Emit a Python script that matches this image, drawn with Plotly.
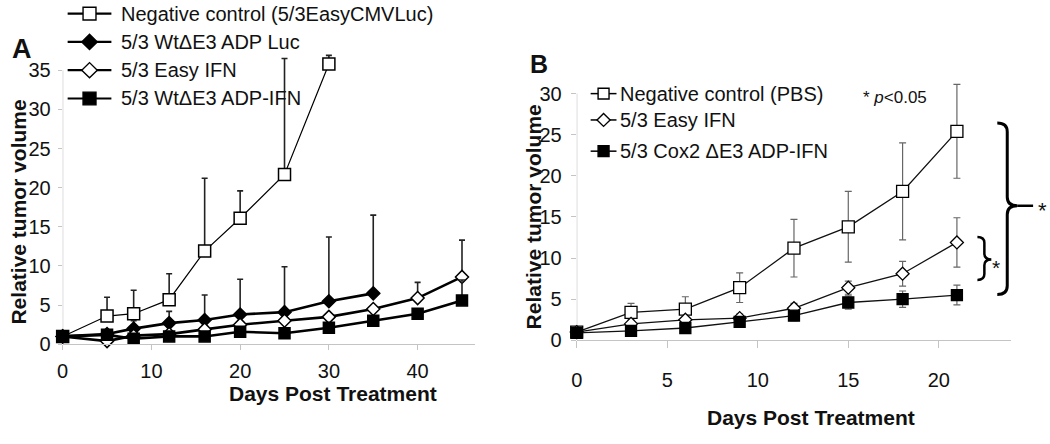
import plotly.graph_objects as go

W, H = 1050, 444
FONT = "Liberation Sans, Arial, Helvetica, sans-serif"

# ---------------- Panel A data ----------------
a_neg_name = "Negative control (5/3EasyCMVLuc)"
a_neg_days = [0, 5, 8, 12, 16, 20, 25, 30]
a_neg_vals = [1.0, 3.6, 3.9, 5.7, 11.9, 16.1, 21.7, 35.8]
a_neg_err = [0.0, 2.4, 3.0, 3.3, 9.3, 3.5, 14.8, 1.1]

a_luc_name = "5/3 WtΔE3 ADP Luc"
a_luc_days = [0, 5, 8, 12, 16, 20, 25, 30, 35]
a_luc_vals = [1.0, 1.3, 2.0, 2.7, 3.1, 3.8, 4.1, 5.5, 6.5]
a_luc_err = [0.0, 0.0, 1.0, 1.5, 3.2, 4.5, 5.8, 8.2, 10.0]

a_ifn_name = "5/3 Easy IFN"
a_ifn_days = [0, 5, 8, 12, 16, 20, 25, 30, 35, 40, 45]
a_ifn_vals = [1.0, 0.4, 1.1, 1.3, 1.9, 2.5, 3.0, 3.5, 4.5, 5.9, 8.6]
a_ifn_err = [0, 0, 0, 0, 0, 0, 0, 0, 0, 2.0, 4.7]

a_adp_name = "5/3 WtΔE3 ADP-IFN"
a_adp_days = [0, 5, 8, 12, 16, 20, 25, 30, 35, 40, 45]
a_adp_vals = [1.0, 1.2, 0.7, 1.0, 1.0, 1.6, 1.4, 2.1, 3.0, 3.9, 5.6]
a_adp_err = [0, 0, 0, 0, 0, 0, 0, 0, 0, 0, 2.6]

a_xticks = [0, 10, 20, 30, 40]
a_yticks = [0, 5, 10, 15, 20, 25, 30, 35]

# ---------------- Panel B data ----------------
b_days = [0, 3, 6, 9, 12, 15, 18, 21]
b_pbs_name = "Negative control (PBS)"
b_pbs_vals = [1.0, 3.4, 3.8, 6.4, 11.2, 13.8, 18.1, 25.4]
b_pbs_err = [0.3, 1.1, 1.5, 1.8, 3.5, 4.3, 5.9, 5.7]
b_ifn_name = "5/3 Easy IFN"
b_ifn_vals = [1.0, 2.0, 2.5, 2.7, 3.9, 6.4, 8.1, 11.9]
b_ifn_err = [0.3, 0.5, 0.5, 0.5, 0.6, 0.8, 1.5, 3.0]
b_cox_name = "5/3 Cox2 ΔE3 ADP-IFN"
b_cox_vals = [0.9, 1.15, 1.5, 2.25, 3.0, 4.6, 5.0, 5.5]
b_cox_err = [0.3, 0.3, 0.3, 0.4, 0.6, 0.8, 1.0, 1.2]

b_xticks = [0, 5, 10, 15, 20]
b_yticks = [0, 5, 10, 15, 20, 25, 30]

# ---------------- figure ----------------
fig = go.Figure()


def add_a(days, vals, err, name, symbol, fill, lw, size):
    fig.add_trace(go.Scatter(
        x=days, y=vals, name=name, mode="lines+markers", showlegend=False,
        line=dict(color="black", width=lw),
        marker=dict(symbol=symbol, size=size, color=fill,
                    line=dict(color="black", width=1.5)),
        error_y=dict(type="data", symmetric=False, array=err,
                     arrayminus=[0] * len(err), color="#222",
                     thickness=1.6, width=3),
        xaxis="x", yaxis="y", cliponaxis=False))


add_a(a_neg_days, a_neg_vals, a_neg_err, a_neg_name, "square", "white", 1.2, 12)
add_a(a_luc_days, a_luc_vals, a_luc_err, a_luc_name, "diamond", "black", 2.6, 10)
add_a(a_ifn_days, a_ifn_vals, a_ifn_err, a_ifn_name, "diamond", "white", 2.6, 10)
add_a(a_adp_days, a_adp_vals, a_adp_err, a_adp_name, "square", "black", 2.6, 11)


def add_b(vals, err, name, symbol, fill, size):
    fig.add_trace(go.Scatter(
        x=b_days, y=vals, name=name, mode="lines+markers", showlegend=False,
        line=dict(color="#111", width=1.3),
        marker=dict(symbol=symbol, size=size, color=fill,
                    line=dict(color="black", width=1.3)),
        error_y=dict(type="data", array=err, color="#666",
                     thickness=1.2, width=3.5),
        xaxis="x2", yaxis="y2", cliponaxis=False))


add_b(b_pbs_vals, b_pbs_err, b_pbs_name, "square", "white", 12)
add_b(b_ifn_vals, b_ifn_err, b_ifn_name, "diamond", "white", 10)
add_b(b_cox_vals, b_cox_err, b_cox_name, "square", "black", 11)

AX = "#c4c4c4"
tickfont = dict(family=FONT, size=20, color="#111")

# pixel geometry of the plot areas
ax_l, ax_r, ay_b, ay_t = 57, 472, 353, 52
bx_l, bx_r, by_b, by_t = 574, 1011, 349, 79

fig.update_layout(
    width=W, height=H, autosize=False,
    margin=dict(l=0, r=0, t=0, b=0),
    paper_bgcolor="white", plot_bgcolor="white",
    font=dict(family=FONT, color="#111"),
    xaxis=dict(domain=[ax_l / W, ax_r / W], range=[0, 46.5],
               tickvals=a_xticks, showgrid=False, zeroline=False,
               showline=True, linecolor=AX, linewidth=1.2,
               ticks="outside", ticklen=5, tickcolor=AX, tickwidth=1.2,
               tickfont=tickfont, ticklabelstandoff=4, anchor="y"),
    yaxis=dict(domain=[1 - ay_b / H, 1 - ay_t / H], range=[0, 37.5],
               tickvals=a_yticks, showgrid=False, zeroline=False,
               showline=False, ticks="outside", ticklen=4, tickcolor=AX,
               tickwidth=1.2, tickfont=tickfont, ticklabelstandoff=3,
               anchor="x"),
    xaxis2=dict(domain=[bx_l / W, bx_r / W], range=[0, 24],
                tickvals=b_xticks, showgrid=False, zeroline=False,
                showline=True, linecolor=AX, linewidth=1.2,
                ticks="outside", ticklen=7, tickcolor=AX, tickwidth=1.2,
                tickfont=tickfont, ticklabelstandoff=15, anchor="y2"),
    yaxis2=dict(domain=[1 - by_b / H, 1 - by_t / H], range=[0, 32],
                tickvals=b_yticks, showgrid=False, zeroline=False,
                showline=False, ticks="outside", ticklen=5, tickcolor=AX,
                tickwidth=1.2, tickfont=tickfont, ticklabelstandoff=5,
                anchor="x2"),
)

shapes = []
# y-axis lines stop at the top tick
shapes.append(dict(type="line", xref="x", yref="y", x0=0, x1=0, y0=0,
                   y1=a_yticks[-1], line=dict(color=AX, width=1.2), layer="below"))
shapes.append(dict(type="line", xref="x2", yref="y2", x0=0, x1=0, y0=0,
                   y1=b_yticks[-1], line=dict(color=AX, width=1.2), layer="below"))


def P(x, y):
    return f"{x / W:.5f},{1 - y / H:.5f}"


def key(x0, x1, y, symbol, fill, lw, half):
    shapes.append(dict(type="line", xref="paper", yref="paper",
                       x0=x0 / W, x1=x1 / W, y0=1 - y / H, y1=1 - y / H,
                       line=dict(color="black", width=lw)))
    xc = (x0 + x1) / 2
    if symbol == "square":
        shapes.append(dict(type="rect", xref="paper", yref="paper",
                           x0=(xc - half) / W, x1=(xc + half) / W,
                           y0=1 - (y + half) / H, y1=1 - (y - half) / H,
                           fillcolor=fill, line=dict(color="black", width=1.4)))
    else:
        h = half * 1.2
        path = f"M{P(xc - h, y)} L{P(xc, y - h)} L{P(xc + h, y)} L{P(xc, y + h)} Z"
        shapes.append(dict(type="path", xref="paper", yref="paper", path=path,
                           fillcolor=fill, line=dict(color="black", width=1.4)))


annotations = []


def text(x, y, s, size, bold=False, anchor="left", angle=0, yanchor="middle"):
    annotations.append(dict(
        x=x / W, y=1 - y / H, xref="paper", yref="paper", text=s,
        showarrow=False, xanchor=anchor, yanchor=yanchor, textangle=angle,
        borderpad=0,
        font=dict(family=FONT, size=size, color="#111",
                  weight="bold" if bold else "normal")))


# legend A
legA = [(a_neg_name, "square", "white", 14), (a_luc_name, "diamond", "black", 43),
        (a_ifn_name, "diamond", "white", 72), (a_adp_name, "square", "black", 101)]
for name, sym, fill, y in legA:
    key(62, 106, y, sym, fill, 2.2, 6.5)
    text(115, y, name, 20)

# legend B
legB = [(b_pbs_name, "square", "white", 96), (b_ifn_name, "diamond", "white", 123),
        (b_cox_name, "square", "black", 155)]
for name, sym, fill, y in legB:
    key(588, 614, y, sym, fill, 1.5, 5.5)
    text(617, y, name, 20)

text(861, 100, "* <i>p</i>&lt;0.05", 17)

# panel letters and axis titles
text(16, 50, "A", 27, bold=True, anchor="center")
text(536, 66, "B", 25, bold=True, anchor="center")
text(13, 217, "Relative tumor volume", 21, bold=True, anchor="center", angle=-90)
text(531, 222, "Relative tumor volume", 21, bold=True, anchor="center", angle=-90)
text(329, 404, "Days Post Treatment", 21, bold=True, anchor="center")
text(810, 428, "Days Post Treatment", 21, bold=True, anchor="center")


# significance braces
def brace(xl, xs, xt, yt, ym, yb, r, lw):
    path = (f"M{P(xl, yt)} Q{P(xs, yt)} {P(xs, yt + r)} L{P(xs, ym - r)} "
            f"Q{P(xs, ym)} {P(xt, ym)} Q{P(xs, ym)} {P(xs, ym + r)} "
            f"L{P(xs, yb - r)} Q{P(xs, yb)} {P(xl, yb)}")
    shapes.append(dict(type="path", xref="paper", yref="paper", path=path,
                       line=dict(color="black", width=lw)))


brace(997, 1007, 1017, 126, 211, 302, 9, 3)
shapes.append(dict(type="line", xref="paper", yref="paper", x0=1017 / W,
                   x1=1033 / W, y0=1 - 211 / H, y1=1 - 211 / H,
                   line=dict(color="black", width=2.5)))
text(1042, 216, "*", 22, anchor="center")
brace(977, 984, 991, 243, 266, 287, 6, 2.5)
text(996, 274, "*", 21, anchor="center")

fig.update_layout(shapes=shapes, annotations=annotations)

# remove the browser's default body margin so the figure fills the window
post = (
    "document.body.style.margin='0px';"
    "document.body.style.overflow='hidden';"
    "document.documentElement.style.overflow='hidden';"
)
fig.write_html(
    "out.html",
    config={"displayModeBar": False, "responsive": False},
    post_script=post,
)
